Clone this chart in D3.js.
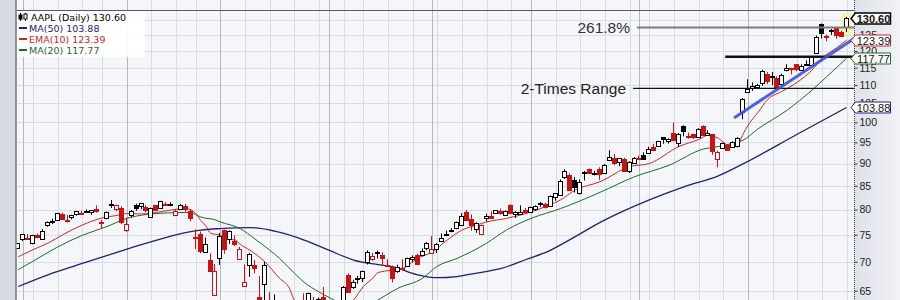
<!DOCTYPE html>
<html lang="en">
<head>
  <meta charset="UTF-8">
  <title>AAPL (Daily) candlestick chart</title>
  <style>
    html,
    body {
      margin: 0;
      padding: 0;
      background: #fff;
    }

    svg {
      display: block;
    }
  </style>
</head>
<body>
<div id="chart"></div>

<script src="https://d3js.org/d3.v7.min.js"></script>
<script>
  // day numbers: 0 = 2 Jan 2020 (first session), -1 = 31 Dec 2019, 167 = 31 Aug 2020
  const firstDay = -1;
  const lastDay = 167;
  const prevClose = 72.88; // 30 Dec 2019, only used to colour the first candle

  const opens = [
    72.48, 74.06, 74.29, 73.45, 74.96, 74.29, 76.81, 77.65, 77.91, 79.18, 77.96, 78.40, 79.07, 79.30, 79.64, 79.48, 80.06,
    77.51, 78.15, 81.11, 80.14, 80.23, 76.07, 78.83, 80.88, 80.64, 80.59, 78.54, 80.90, 80.37, 81.05, 81.18, 78.84, 80.00,
    80.66, 79.65, 74.32, 75.24, 71.63, 70.28, 64.32, 70.57, 75.92, 74.11, 73.88, 70.50, 65.94, 69.29, 69.35, 63.99, 66.22,
    60.49, 61.88, 59.94, 61.85, 61.79, 57.02, 59.09, 62.69, 61.63, 63.19, 62.69, 63.90, 61.63, 60.08, 60.70, 62.73, 67.70,
    65.68, 67.18, 67.08, 70.00, 70.60, 71.85, 71.17, 69.49, 69.07, 68.40, 68.97, 69.30, 70.45, 71.27, 71.18, 72.49, 71.56,
    72.29, 73.76, 75.11, 75.81, 76.41, 77.03, 79.46, 78.04, 76.13, 75.09, 78.29, 78.76, 79.17, 79.67, 78.94, 80.88, 79.04,
    79.19, 79.81, 79.44, 80.19, 81.17, 81.10, 80.84, 82.56, 83.04, 86.97, 87.33, 86.18, 83.31, 87.87, 88.79, 87.85, 88.66,
    87.84, 91.00, 91.25, 90.18, 91.10, 88.31, 90.02, 91.28, 91.96, 92.50, 93.85, 94.18, 96.26, 95.34, 97.26, 94.84, 98.99,
    96.56, 96.99, 96.42, 99.17, 96.69, 97.00, 90.99, 93.71, 94.37, 93.75, 94.19, 102.89, 108.20, 109.13, 109.38, 110.41,
    113.21, 112.60, 111.97, 110.50, 114.43, 114.83, 116.06, 114.35, 115.98, 115.75, 119.26, 128.70, 124.70, 126.18, 127.14,
    126.01, 127.58
  ];
  const highs = [
    73.42, 75.15, 75.14, 74.99, 75.22, 76.11, 77.61, 78.17, 79.27, 79.39, 78.88, 78.93, 79.68, 79.75, 80.00, 79.89, 80.83,
    77.94, 79.60, 81.96, 81.02, 80.67, 78.37, 79.91, 81.19, 81.31, 80.85, 80.39, 80.97, 81.81, 81.55, 81.50, 79.94, 81.14,
    81.16, 80.11, 76.04, 75.63, 74.47, 71.50, 69.60, 75.36, 76.00, 75.85, 74.89, 72.71, 69.52, 71.61, 70.31, 67.50, 69.98,
    64.77, 64.40, 62.50, 63.21, 62.96, 57.13, 61.92, 64.56, 64.67, 63.97, 63.88, 65.62, 62.18, 61.29, 61.43, 65.78, 67.93,
    66.84, 67.52, 68.43, 72.06, 71.58, 72.05, 71.74, 70.42, 69.31, 69.48, 70.44, 70.75, 71.14, 71.46, 72.42, 73.63, 74.75,
    73.42, 75.25, 75.81, 76.29, 77.59, 79.26, 79.92, 78.99, 77.45, 76.97, 79.12, 79.63, 79.88, 80.22, 79.81, 81.06, 79.68,
    80.86, 80.29, 80.59, 80.86, 81.55, 81.40, 82.94, 83.40, 86.40, 88.69, 87.76, 86.95, 86.42, 88.30, 88.85, 88.36, 89.14,
    89.87, 93.10, 92.20, 91.25, 91.33, 90.54, 91.50, 91.84, 92.62, 93.95, 94.66, 95.38, 96.32, 95.98, 99.96, 97.26, 99.25,
    97.40, 97.15, 98.50, 99.25, 97.97, 97.08, 92.97, 94.91, 94.55, 95.23, 96.30, 106.42, 111.64, 110.79, 110.39, 114.41,
    113.68, 113.78, 112.48, 113.28, 116.04, 115.00, 116.09, 116.00, 117.16, 118.39, 124.87, 128.79, 125.18, 126.99, 127.49,
    126.44, 131.00
  ];
  const lows = [
    72.38, 73.80, 74.13, 73.19, 74.37, 74.29, 76.55, 77.06, 77.79, 78.04, 77.39, 78.02, 78.75, 79.00, 79.33, 78.91, 79.38,
    76.22, 78.05, 80.35, 79.69, 77.07, 75.56, 78.41, 79.74, 80.07, 79.50, 78.46, 79.68, 80.37, 80.84, 80.71, 78.65, 80.00,
    79.55, 77.63, 72.31, 71.53, 71.63, 68.24, 64.09, 69.43, 71.45, 73.28, 72.85, 70.31, 65.75, 67.34, 67.96, 62.00, 63.24,
    60.00, 59.60, 59.28, 60.65, 57.00, 53.15, 58.58, 61.08, 61.59, 61.76, 62.35, 63.00, 59.78, 59.22, 59.74, 62.35, 64.76,
    65.31, 66.18, 66.46, 69.51, 70.16, 70.59, 69.22, 69.21, 66.36, 68.05, 68.72, 69.25, 69.99, 69.55, 70.97, 72.09, 71.46,
    71.58, 73.61, 74.72, 75.49, 76.07, 76.81, 77.73, 75.80, 75.38, 75.05, 77.58, 78.25, 79.13, 78.97, 78.84, 79.13, 78.27,
    79.00, 79.12, 79.30, 79.73, 80.57, 80.19, 80.81, 81.83, 83.00, 86.52, 83.87, 83.56, 83.14, 86.18, 87.77, 87.31, 86.29,
    87.79, 90.57, 89.63, 89.39, 88.25, 87.82, 90.00, 90.98, 90.91, 92.47, 93.06, 94.09, 94.67, 94.71, 95.26, 93.88, 96.49,
    95.91, 95.84, 96.06, 96.74, 96.60, 92.01, 89.14, 93.48, 93.25, 93.71, 93.77, 100.83, 107.89, 108.39, 108.90, 109.80,
    110.29, 110.00, 109.11, 110.30, 113.93, 113.05, 113.96, 114.01, 115.61, 115.73, 119.25, 123.94, 123.05, 125.08, 123.83,
    124.58, 126.00
  ];
  const closes = [
    73.41, 75.09, 74.36, 74.95, 74.60, 75.80, 77.41, 77.58, 79.24, 78.17, 77.83, 78.81, 79.68, 79.14, 79.43, 79.81, 79.58,
    77.24, 79.42, 81.08, 80.97, 77.38, 77.17, 79.71, 80.36, 81.30, 80.01, 80.39, 79.90, 81.80, 81.22, 81.24, 79.75, 80.90,
    80.07, 78.26, 74.54, 72.02, 73.16, 68.38, 68.34, 74.70, 72.33, 75.68, 73.23, 72.26, 66.54, 71.33, 68.86, 62.06, 69.49,
    60.55, 63.22, 61.67, 61.20, 57.31, 56.09, 61.72, 61.38, 64.61, 61.94, 63.70, 63.57, 60.23, 61.23, 60.35, 65.62, 64.86,
    66.52, 67.00, 68.31, 71.76, 71.11, 71.67, 70.70, 69.23, 67.09, 69.03, 68.76, 70.74, 70.79, 69.64, 71.93, 73.45, 72.27,
    73.29, 74.39, 75.16, 75.93, 77.53, 78.75, 77.85, 76.91, 77.39, 76.93, 78.74, 78.29, 79.81, 79.21, 79.72, 79.18, 79.53,
    79.56, 79.49, 80.46, 80.83, 81.28, 80.58, 82.88, 83.36, 86.00, 88.21, 83.97, 84.70, 85.75, 88.02, 87.90, 87.93, 87.43,
    89.72, 91.63, 90.01, 91.21, 88.41, 90.45, 91.20, 91.03, 91.03, 93.46, 93.17, 95.34, 95.75, 95.92, 95.48, 97.06, 97.72,
    96.52, 96.33, 98.36, 97.00, 97.27, 92.85, 92.62, 94.81, 93.25, 95.04, 96.19, 106.26, 108.94, 109.67, 110.06, 113.90,
    111.11, 112.73, 109.38, 113.01, 115.01, 114.91, 114.61, 115.56, 115.71, 118.28, 124.37, 125.86, 124.83, 126.52, 125.01,
    124.81, 130.60
  ];

  // moving averages as [day, value]
  const ma50 = [
    [-1, 65.7], [5, 67.7], [12, 69.7], [19, 71.7], [25, 73.4], [31, 75.0], [36, 75.9], [40, 76.2], [46, 76.4],
    [51, 75.7], [57, 74.0], [62, 72.1], [67, 70.3], [72, 69.5], [75, 69.1], [80, 67.7], [84, 67.2], [88, 67.4],
    [92, 68.0], [97, 68.8], [102, 70.4], [107, 72.1], [110, 73.6], [118, 77.9], [127, 82.0], [134, 84.8],
    [141, 87.2], [146, 89.9], [157, 97.0], [167, 103.88]
  ];
  const ema10 = [
    [-1, 70.9], [2, 72.2], [5, 73.4], [8, 75.0], [12, 76.9], [16, 78.3], [19, 78.8], [21, 79.2], [24, 79.1],
    [27, 79.4], [30, 79.9], [33, 80.2], [35, 79.2], [36, 77.8], [37, 76.8], [38, 75.3], [40, 74.9], [41, 74.2],
    [43, 74.0], [44, 73.2], [46, 72.1], [49, 70.0], [52, 67.1], [54, 65.4], [55, 63.5], [61, 61.3], [67, 63.5],
    [69, 65.7], [71, 67.2], [72, 68.1], [77, 68.8], [80, 70.6], [83, 71.8], [86, 74.0], [89, 75.9], [92, 76.9],
    [94, 77.5], [98, 78.2], [102, 79.2], [106, 80.6], [109, 82.0], [112, 84.1], [117, 85.9], [123, 89.3],
    [127, 90.0], [133, 94.0], [137, 95.7], [139, 96.8], [141, 96.0], [143, 94.4], [145, 94.6], [146, 97.0],
    [147, 99.2], [149, 102.5], [151, 106.0], [154, 108.3], [157, 110.8], [160, 114.3], [162, 117.8], [165, 121.0],
    [167, 123.39]
  ];
  const ma20 = [
    [-1, 68.6], [2, 70.1], [7, 72.7], [12, 74.9], [17, 76.6], [21, 78.2], [25, 79.0], [29, 79.3], [33, 79.4],
    [35, 79.0], [36, 78.5], [39, 77.9], [40, 77.5], [44, 76.2], [47, 74.2], [50, 72.1], [52, 70.6], [55, 68.0],
    [57, 66.4], [60, 64.8], [63, 63.5], [68, 61.8], [72, 63.5], [76, 65.4], [81, 67.1], [84, 69.2], [88, 70.6],
    [94, 73.4], [98, 75.9], [103, 78.2], [109, 80.2], [117, 83.6], [124, 87.0], [131, 89.6], [138, 93.4],
    [141, 94.0], [144, 94.8], [146, 95.5], [149, 98.3], [155, 103.2], [160, 108.6], [163, 112.4], [167, 117.77]
  ];

  const weekStarts = [2, 7, 12, 16, 26, 31, 35, 45, 50, 55, 60, 65, 69, 74, 79, 84, 89, 94, 99, 108, 113, 118,
    123, 127, 132, 137, 142, 152, 157, 162, 167];
  const monthStarts = [0, 21, 40, 62, 83, 103, 125, 147];
  const priceGrid = [65, 70, 75, 80, 85, 90, 95, 100, 105, 110, 115, 120, 125, 130];
  const priceLabels = [65, 70, 75, 80, 85, 90, 95, 100, 105, 110, 115, 120, 125]; // 130 sits under the last-price tag

  // drawn annotations: [price, first day]
  const topLine = [133.3, -1.3];
  const fibLine = [127.5, 124.5];
  const breakLine = [118.3, 142.4];
  const rangeLine = [109.1, 123.7];
  const trendLine = [[144.4, 101.3], [169.1, 124.5]];

  const legend = [
    { label: 'MA(50) 103.88', value: 103.88, color: '#1e2270' },
    { label: 'EMA(10) 123.39', value: 123.39, color: '#c62828' },
    { label: 'MA(20) 117.77', value: 117.77, color: '#1f6b1f' },
  ];

  const width = 900;
  const height = 300;
  const plotLeft = 16.5;
  const plotRight = 854;

  const x = d3.scaleLinear().domain([0, lastDay]).range([23.2, 846.5]);
  const y = d3.scaleLog().domain([65, 130]).range([290.7, 19.8]);

  const svg = d3.select('#chart').append('svg')
    .attr('width', width)
    .attr('height', height)
    .attr('viewBox', [0, 0, width, height])
    .style('font-family', '"Liberation Sans", Arial, sans-serif');

  const defs = svg.append('defs');
  defs.append('clipPath').attr('id', 'plot-clip')
    .append('rect')
    .attr('x', plotLeft).attr('y', 0)
    .attr('width', plotRight - plotLeft).attr('height', height);
  const axisGrad = defs.append('linearGradient').attr('id', 'axis-bg');
  axisGrad.append('stop').attr('offset', '0%').attr('stop-color', '#dde1e9');
  axisGrad.append('stop').attr('offset', '100%').attr('stop-color', '#f1f2f5');

  // backgrounds
  svg.append('rect').attr('x', 0).attr('y', 0).attr('width', plotLeft).attr('height', height).attr('fill', '#d6dae2');
  svg.append('rect').attr('x', plotLeft).attr('y', 0).attr('width', plotRight - plotLeft).attr('height', height)
    .attr('fill', '#f5f6fa');
  svg.append('rect').attr('x', plotRight).attr('y', 0).attr('width', width - plotRight).attr('height', height)
    .attr('fill', 'url(#axis-bg)');
  svg.append('line')
    .attr('x1', plotLeft - 0.5).attr('x2', plotLeft - 0.5).attr('y1', 0).attr('y2', height)
    .attr('stroke', '#6f747d').attr('stroke-width', 1.5);

  const plot = svg.append('g').attr('clip-path', 'url(#plot-clip)');

  // grid
  plot.append('g')
    .selectAll('line')
    .data(priceGrid)
    .join('line')
    .attr('x1', plotLeft).attr('x2', plotRight)
    .attr('y1', d => Math.round(y(d)) + 0.5).attr('y2', d => Math.round(y(d)) + 0.5)
    .attr('stroke', '#d9dce4');

  plot.append('g')
    .selectAll('line')
    .data(weekStarts)
    .join('line')
    .attr('x1', d => Math.round(x(d)) + 0.5).attr('x2', d => Math.round(x(d)) + 0.5)
    .attr('y1', 0).attr('y2', height)
    .attr('stroke', '#d9dce4');

  plot.append('g')
    .selectAll('line')
    .data(monthStarts)
    .join('line')
    .attr('x1', d => Math.round(x(d)) + 0.5).attr('x2', d => Math.round(x(d)) + 0.5)
    .attr('y1', 0).attr('y2', height)
    .attr('stroke', '#b4b8c1');

  // yellow highlight behind the latest bar
  plot.append('rect')
    .attr('x', Math.round(x(lastDay)) - 5).attr('y', y(highs[highs.length - 1]) - 3)
    .attr('width', 9).attr('height', y(lows[lows.length - 1]) - y(highs[highs.length - 1]) + 6)
    .attr('fill', '#f7f59a');

  // moving averages
  const maLine = d3.line()
    .x(d => x(d[0]))
    .y(d => y(d[1]))
    .curve(d3.curveMonotoneX);

  [[ma50, legend[0].color, 1.3], [ma20, legend[2].color, 1], [ema10, legend[1].color, 1]].forEach(([pts, color, w]) => {
    plot.append('path')
      .attr('d', maLine(pts))
      .attr('fill', 'none')
      .attr('stroke', color)
      .attr('stroke-width', w);
  });

  // candles
  const candles = closes.map((c, i) => ({
    day: firstDay + i,
    o: opens[i],
    h: highs[i],
    l: lows[i],
    c: c,
    prev: i === 0 ? prevClose : closes[i - 1],
  }));

  const candle = plot.append('g')
    .selectAll('g')
    .data(candles)
    .join('g')
    .attr('transform', d => `translate(${Math.round(x(d.day))},0)`);

  const barColor = d => d.c >= d.prev ? '#000' : '#cc1111';

  candle.append('line')
    .attr('x1', -0.5).attr('x2', -0.5)
    .attr('y1', d => y(d.h)).attr('y2', d => y(d.l))
    .attr('stroke', barColor);

  candle.append('rect')
    .attr('x', -2.5)
    .attr('width', 4)
    .attr('y', d => Math.round(y(Math.max(d.o, d.c))) + 0.5)
    .attr('height', d => Math.max(1, Math.round(Math.abs(y(d.o) - y(d.c)))))
    .attr('fill', d => d.c > d.o ? '#fff' : barColor(d))
    .attr('stroke', barColor)
    .attr('stroke-width', 1);

  // annotation lines
  plot.append('line')
    .attr('x1', x(topLine[1])).attr('x2', plotRight)
    .attr('y1', Math.round(y(topLine[0])) + 0.5).attr('y2', Math.round(y(topLine[0])) + 0.5)
    .attr('stroke', '#555a63').attr('stroke-width', 1);

  plot.append('line')
    .attr('x1', x(fibLine[1])).attr('x2', plotRight)
    .attr('y1', y(fibLine[0])).attr('y2', y(fibLine[0]))
    .attr('stroke', '#7d7d7d').attr('stroke-width', 2);

  plot.append('line')
    .attr('x1', x(breakLine[1])).attr('x2', plotRight)
    .attr('y1', y(breakLine[0])).attr('y2', y(breakLine[0]))
    .attr('stroke', '#111').attr('stroke-width', 2.5);

  plot.append('line')
    .attr('x1', x(rangeLine[1])).attr('x2', plotRight)
    .attr('y1', y(rangeLine[0])).attr('y2', y(rangeLine[0]))
    .attr('stroke', '#111').attr('stroke-width', 1.3);

  plot.append('line')
    .attr('x1', x(trendLine[0][0])).attr('y1', y(trendLine[0][1]))
    .attr('x2', x(trendLine[1][0])).attr('y2', y(trendLine[1][1]))
    .attr('stroke', '#3a55d8').attr('stroke-width', 3)
    .attr('stroke-linecap', 'round')
    .attr('opacity', 0.9);

  svg.append('text')
    .attr('x', x(fibLine[1]) - 7).attr('y', y(fibLine[0]) + 5.5)
    .attr('text-anchor', 'end')
    .attr('font-size', 15.5)
    .attr('fill', '#333')
    .text('261.8%');

  svg.append('text')
    .attr('x', x(rangeLine[1]) - 7).attr('y', y(rangeLine[0]) + 5.5)
    .attr('text-anchor', 'end')
    .attr('font-size', 15.5)
    .attr('fill', '#222')
    .text('2-Times Range');

  // right price axis
  svg.append('line')
    .attr('x1', plotRight + 0.5).attr('x2', plotRight + 0.5)
    .attr('y1', 0).attr('y2', height)
    .attr('stroke', '#444').attr('stroke-dasharray', '1,1');

  const axis = svg.append('g')
    .attr('transform', `translate(${plotRight + 0.5},0)`)
    .call(d3.axisRight(y).tickValues(priceLabels).tickFormat(d3.format('d')).tickSize(3).tickPadding(2));
  axis.select('.domain').remove();
  axis.selectAll('.tick line').attr('stroke', '#333');
  axis.selectAll('.tick text')
    .attr('fill', '#222')
    .attr('font-size', 10.5)
    .attr('font-family', '"Liberation Sans", Arial, sans-serif');

  // value tags on the axis
  const tags = [
    { value: closes[closes.length - 1], color: '#000', bold: true },
    ...legend.map(d => ({ value: d.value, color: d.color, bold: false })),
  ];

  const tag = svg.append('g')
    .selectAll('g')
    .data(tags)
    .join('g')
    .attr('transform', d => `translate(${plotRight},${Math.round(y(d.value)) + 0.5})`);

  tag.append('path')
    .attr('d', 'M-3,0 L1.5,-5.5 L36.5,-5.5 L36.5,5.5 L1.5,5.5 Z')
    .attr('fill', '#fff')
    .attr('stroke', d => d.color)
    .attr('stroke-width', d => d.bold ? 1.5 : 1);

  tag.append('text')
    .attr('x', 19.5)
    .attr('y', 4)
    .attr('text-anchor', 'middle')
    .attr('font-size', 11)
    .attr('font-weight', d => d.bold ? 'bold' : 'normal')
    .attr('fill', '#111')
    .text(d => d.value.toFixed(2));

  // legend
  const leg = svg.append('g');
  leg.append('rect')
    .attr('x', plotLeft + 0.5).attr('y', 11).attr('width', 128).attr('height', 46)
    .attr('fill', '#fff').attr('opacity', 0.92);

  // small candle icon
  leg.append('g').attr('stroke', '#000').attr('fill', '#000')
    .call(g => {
      g.append('line').attr('x1', 20.5).attr('x2', 20.5).attr('y1', 13).attr('y2', 21);
      g.append('rect').attr('x', 19).attr('y', 15).attr('width', 3).attr('height', 4);
      g.append('line').attr('x1', 25.5).attr('x2', 25.5).attr('y1', 13).attr('y2', 21);
      g.append('rect').attr('x', 24).attr('y', 14).attr('width', 3).attr('height', 5).attr('fill', '#fff');
    });

  leg.append('text')
    .attr('x', 31).attr('y', 20.5)
    .attr('font-family', '"DejaVu Sans", Verdana, sans-serif')
    .attr('font-size', 9.5)
    .attr('fill', '#000')
    .text(`AAPL (Daily) ${closes[closes.length - 1].toFixed(2)}`);

  const legRow = leg.selectAll('g.row')
    .data(legend)
    .join('g')
    .attr('class', 'row')
    .attr('transform', (d, i) => `translate(0,${31.5 + i * 11})`);

  legRow.append('line')
    .attr('x1', 19).attr('x2', 27).attr('y1', -3.5).attr('y2', -3.5)
    .attr('stroke', d => d.color).attr('stroke-width', 2);

  legRow.append('text')
    .attr('x', 29).attr('y', 0)
    .attr('font-family', '"DejaVu Sans", Verdana, sans-serif')
    .attr('font-size', 9.5)
    .attr('fill', d => d.color)
    .text(d => d.label);
</script>
</body>
</html>
